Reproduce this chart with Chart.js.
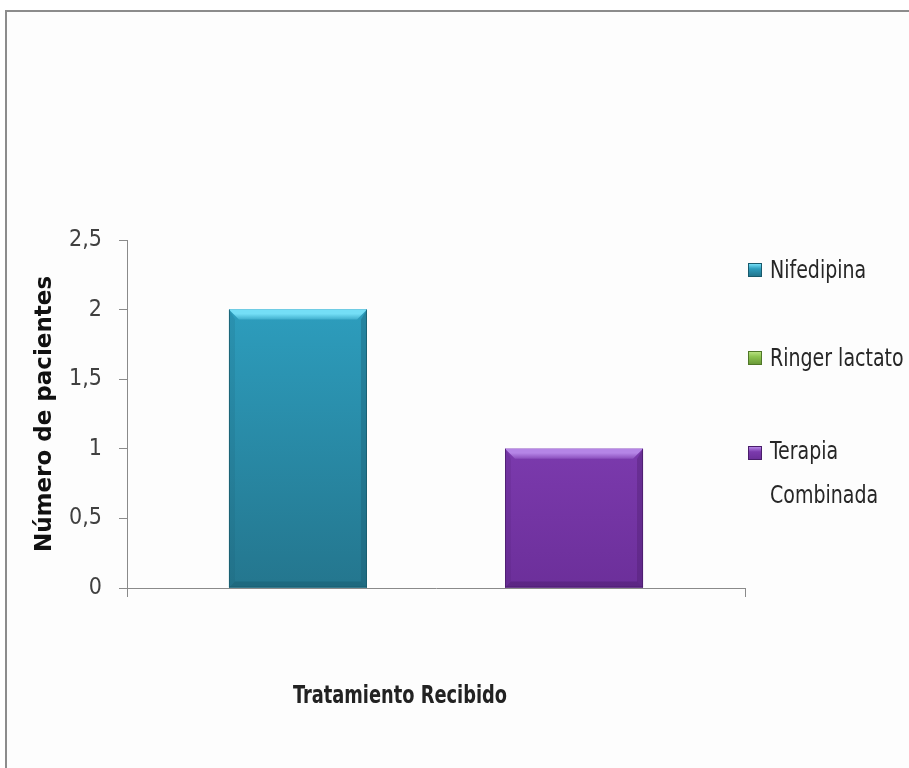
<!DOCTYPE html>
<html>
<head>
<meta charset="utf-8">
<script src="https://cdn.jsdelivr.net/npm/chart.js@4/dist/chart.umd.min.js"></script>
<style>
  html, body { margin: 0; padding: 0; background: #ffffff; width: 909px; height: 768px; overflow: hidden; }
  #frame { position: absolute; left: 5px; top: 10px; width: 1000px; height: 1000px;
           border-left: 2px solid #8c8c8c; border-top: 2px solid #8c8c8c; background: #fdfdfd; }
  #wrap { position: absolute; left: 0; top: 0; width: 909px; height: 768px; }
  .narrow { font-family: "Liberation Sans Narrow", "DejaVu Sans Condensed", "Open Sans", sans-serif; }
  #xtitle { position: absolute; top: 682px; left: 0; width: 800px; text-align: center;
            font-size: 22px; font-weight: bold; color: #222; transform: scale(0.9, 1.15); transform-origin: 400px 50%; }
  #legend { position: absolute; left: 748px; top: 0; }
  .item { position: absolute; left: 0; display: flex; align-items: flex-start; white-space: nowrap;
          font-size: 22px; color: #262626; line-height: 40px; }
  .txt { transform: scale(0.96, 1.1); transform-origin: 0 50%; }
  .box { width: 14px; height: 14px; margin-top: 13px; margin-right: 8px; flex: none; box-sizing: border-box; }
</style>
</head>
<body>
<div id="frame"></div>
<div id="wrap"><canvas id="c" width="909" height="768"></canvas></div>
<div id="xtitle" class="narrow"></div>
<div id="legend" class="narrow"></div>
<script>
// ---- data ----
const categories = [''];
const seriesNames = ['Nifedipina', 'Ringer lactato', 'Terapia Combinada'];
const legendLines = [['Nifedipina'], ['Ringer lactato'], ['Terapia', 'Combinada']];
const nifedipina = [2];
const ringerLactato = [0];
const terapiaCombinada = [1];
const yTicks = [0, 0.5, 1, 1.5, 2, 2.5];
const xAxisTitle = 'Tratamiento Recibido';
const yAxisTitle = 'Número de pacientes';

// ---- styles ----
const palette = [
  { top: '#2d9dbd', bottom: '#24768e', light: '#74def6', dark: '#195a6c' },
  { top: '#8cc350', bottom: '#6a9a37', light: '#b6e07f', dark: '#507728' },
  { top: '#7b3aad', bottom: '#6c2f9a', light: '#b585e6', dark: '#4a1d6b' }
];

const bevelPlugin = {
  id: 'bevel',
  afterDatasetDraw(chart, args) {
    const ctx = chart.ctx;
    const meta = args.meta;
    const c = palette[args.index];
    meta.data.forEach(el => {
      const p = el.getProps(['x', 'y', 'base', 'width'], true);
      const l = p.x - p.width / 2, r = p.x + p.width / 2, t = Math.min(p.y, p.base), b = Math.max(p.y, p.base);
      if (b - t < 1) return;
      const s = 10;
      ctx.save();
      const g = ctx.createLinearGradient(0, t, 0, b);
      g.addColorStop(0, c.top); g.addColorStop(1, c.bottom);
      ctx.fillStyle = g;
      ctx.fillRect(l, t, r - l, b - t);
      // right bevel
      ctx.fillStyle = c.dark; ctx.globalAlpha = 0.35;
      ctx.beginPath(); ctx.moveTo(r, t); ctx.lineTo(r, b); ctx.lineTo(r - 6, b - 6); ctx.lineTo(r - 6, t + s); ctx.closePath(); ctx.fill();
      // bottom bevel
      ctx.globalAlpha = 0.45;
      ctx.beginPath(); ctx.moveTo(l, b); ctx.lineTo(r, b); ctx.lineTo(r - 6, b - 6); ctx.lineTo(l + 6, b - 6); ctx.closePath(); ctx.fill();
      // left bevel
      ctx.globalAlpha = 0.15;
      ctx.beginPath(); ctx.moveTo(l, t); ctx.lineTo(l, b); ctx.lineTo(l + 6, b - 6); ctx.lineTo(l + 6, t + s); ctx.closePath(); ctx.fill();
      // top bevel
      ctx.globalAlpha = 1;
      const gt = ctx.createLinearGradient(0, t, 0, t + s + 2);
      gt.addColorStop(0, c.light); gt.addColorStop(0.35, c.light); gt.addColorStop(1, c.top);
      ctx.fillStyle = gt;
      ctx.beginPath(); ctx.moveTo(l, t); ctx.lineTo(r, t); ctx.lineTo(r - s, t + s); ctx.lineTo(l + s, t + s); ctx.closePath(); ctx.fill();
      // outline
      ctx.globalAlpha = 0.8;
      ctx.strokeStyle = c.dark; ctx.lineWidth = 1;
      ctx.beginPath(); ctx.moveTo(l + 0.5, t); ctx.lineTo(l + 0.5, b); ctx.moveTo(r - 0.5, t); ctx.lineTo(r - 0.5, b); ctx.moveTo(l, b - 0.5); ctx.lineTo(r, b - 0.5); ctx.stroke();
      ctx.restore();
    });
  }
};

const narrowFont = '"Liberation Sans Narrow", "DejaVu Sans Condensed", "Open Sans", sans-serif';
const seriesValues = [nifedipina, ringerLactato, terapiaCombinada];

new Chart(document.getElementById('c'), {
  type: 'bar',
  data: {
    labels: categories,
    datasets: seriesNames.map((n, i) => ({
      label: n,
      data: seriesValues[i],
      backgroundColor: palette[i].top,
      borderWidth: 0,
      categoryPercentage: 0.67,
      barPercentage: 1.0
    }))
  },
  options: {
    responsive: false,
    animation: false,
    layout: { padding: { left: 0, right: 164, top: 240, bottom: 160 } },
    plugins: { legend: { display: false }, tooltip: { enabled: false } },
    scales: {
      x: {
        offset: true,
        grid: { display: true, offset: true, drawOnChartArea: false, tickLength: 9, color: '#8a8a8a', lineWidth: 1 },
        border: { display: true, color: '#8a8a8a', width: 1 },
        ticks: { display: false },
        afterFit(s) { s.height = 20; }
      },
      y: {
        min: 0, max: 2.5,
        afterBuildTicks(s) { s.ticks = yTicks.map(v => ({ value: v })); },
        grid: { display: true, drawOnChartArea: false, tickLength: 8, color: '#8a8a8a', lineWidth: 1 },
        border: { display: true, color: '#8a8a8a', width: 1 },
        ticks: {
          padding: 17,
          color: '#404040',
          font: { family: narrowFont, size: 23 },
          callback: v => String(v).replace('.', ',')
        },
        title: {
          display: true, text: yAxisTitle, color: '#111',
          font: { family: '"DejaVu Sans", sans-serif', size: 23, weight: 'bold' },
          padding: { top: 31, bottom: 0 }
        },
        afterFit(s) { s.width = 127; }
      }
    }
  },
  plugins: [bevelPlugin]
});

document.getElementById('xtitle').textContent = xAxisTitle;
const lg = document.getElementById('legend');
const legendTops = [250, 338, 433];
legendLines.forEach((lines, i) => {
  const it = document.createElement('div');
  it.className = 'item';
  it.style.top = legendTops[i] + 'px';
  const bx = document.createElement('div');
  bx.className = 'box';
  bx.style.background = 'linear-gradient(' + palette[i].light + ',' + palette[i].top + ' 40%,' + palette[i].bottom + ')';
  bx.style.border = '1px solid ' + palette[i].dark;
  const tx = document.createElement('div');
  tx.className = 'txt';
  tx.innerHTML = lines.map(s => s.replace(/&/g, '&amp;')).join('<br>');
  it.appendChild(bx); it.appendChild(tx);
  lg.appendChild(it);
});
</script>
</body>
</html>
